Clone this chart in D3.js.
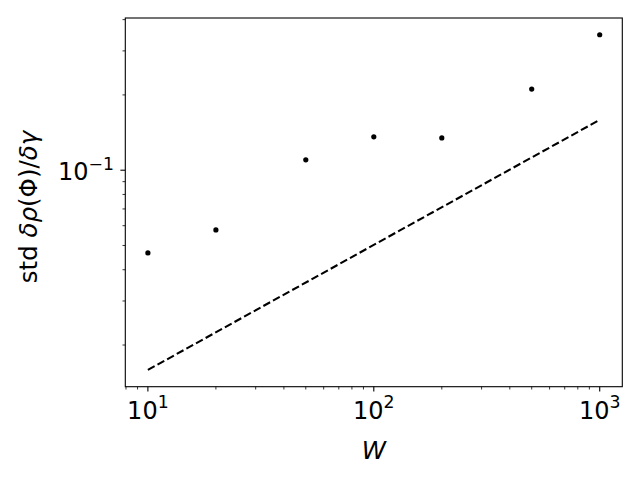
<!DOCTYPE html>
<html>
<head>
<meta charset="utf-8">
<script src="https://cdn.jsdelivr.net/npm/d3@7"></script>
<style>
  body { margin: 0; background: #fff; }
  text { font-family: "DejaVu Sans", sans-serif; fill: #000; }
</style>
</head>
<body>
<svg width="640" height="480"></svg>
<script>
// measured points
var W = [10, 20, 50, 100, 200, 500, 1000];
var stdVals = [0.0467, 0.0577, 0.110, 0.136, 0.1346, 0.211, 0.348];

// dashed reference line
var lineW = [10, 1000];
var lineVals = [0.0159, 0.159];

var xMajor = [10, 100, 1000];
var xMajorExp = ["1", "2", "3"];
var yMajor = [0.1];
var yMajorExp = ["\u22121"];

var svg = d3.select("svg");
var plotL = 125.3, plotR = 622.3, plotT = 18, plotB = 386.7;
var fs = 24;      // tick labels
var labFs = 24.5; // axis labels

// log margins like matplotlib (5% each side in log space)
function logPad(lo, hi) {
  var a = Math.log10(lo), b = Math.log10(hi), p = (b - a) * 0.05;
  return [Math.pow(10, a - p), Math.pow(10, b + p)];
}
var xDom = logPad(d3.min(W.concat(lineW)), d3.max(W.concat(lineW)));
var yDom = logPad(d3.min(stdVals.concat(lineVals)), d3.max(stdVals.concat(lineVals)));

var x = d3.scaleLog().domain(xDom).range([plotL, plotR]);
var y = d3.scaleLog().domain(yDom).range([plotB, plotT]);

function minorTicks(scale) {
  var d = scale.domain(), out = [];
  for (var e = Math.floor(Math.log10(d[0])); e <= Math.ceil(Math.log10(d[1])); e++) {
    for (var k = 2; k <= 9; k++) {
      var v = k * Math.pow(10, e);
      if (v >= d[0] && v <= d[1]) out.push(v);
    }
  }
  return out;
}

// dashed line
svg.append("path")
  .datum(lineW.map(function (w, i) { return [w, lineVals[i]]; }))
  .attr("fill", "none")
  .attr("stroke", "#000")
  .attr("stroke-width", 2.08)
  .attr("stroke-dasharray", "7.7,3.3")
  .attr("d", d3.line().x(function (d) { return x(d[0]); }).y(function (d) { return y(d[1]); }));

// points
svg.append("g").selectAll("circle")
  .data(W)
  .enter().append("circle")
  .attr("cx", function (d) { return x(d); })
  .attr("cy", function (d, i) { return y(stdVals[i]); })
  .attr("r", 2.6)
  .attr("fill", "#000");

// frame
svg.append("rect")
  .attr("x", plotL).attr("y", plotT)
  .attr("width", plotR - plotL).attr("height", plotB - plotT)
  .attr("fill", "none").attr("stroke", "#000").attr("stroke-width", 1.1);

// x ticks
var gx = svg.append("g");
gx.selectAll("line.minor").data(minorTicks(x)).enter().append("line")
  .attr("x1", function (d) { return x(d); }).attr("x2", function (d) { return x(d); })
  .attr("y1", plotB).attr("y2", plotB + 2.8)
  .attr("stroke", "#000").attr("stroke-width", 0.8);
gx.selectAll("line.major").data(xMajor).enter().append("line")
  .attr("x1", function (d) { return x(d); }).attr("x2", function (d) { return x(d); })
  .attr("y1", plotB).attr("y2", plotB + 4.9)
  .attr("stroke", "#000").attr("stroke-width", 1.1);
var xt = gx.selectAll("text").data(xMajor).enter().append("text")
  .attr("x", function (d) { return x(d); })
  .attr("y", 418.5)
  .attr("text-anchor", "middle")
  .style("font-size", fs + "px");
xt.append("tspan").text("10");
xt.append("tspan").attr("dy", -11).style("font-size", (fs * 0.72) + "px")
  .text(function (d, i) { return xMajorExp[i]; });

// y ticks
var gy = svg.append("g");
gy.selectAll("line.minor").data(minorTicks(y)).enter().append("line")
  .attr("y1", function (d) { return y(d); }).attr("y2", function (d) { return y(d); })
  .attr("x1", plotL).attr("x2", plotL - 2.8)
  .attr("stroke", "#000").attr("stroke-width", 0.8);
gy.selectAll("line.major").data(yMajor).enter().append("line")
  .attr("y1", function (d) { return y(d); }).attr("y2", function (d) { return y(d); })
  .attr("x1", plotL).attr("x2", plotL - 4.9)
  .attr("stroke", "#000").attr("stroke-width", 1.1);
var yt = gy.selectAll("text").data(yMajor).enter().append("text")
  .attr("x", 114)
  .attr("y", function (d) { return y(d) + 9.5; })
  .attr("text-anchor", "end")
  .style("font-size", fs + "px");
yt.append("tspan").text("10");
yt.append("tspan").attr("dy", -10).style("font-size", (fs * 0.72) + "px")
  .text(function (d, i) { return yMajorExp[i]; });

// axis labels
svg.append("text")
  .attr("x", (plotL + plotR) / 2).attr("y", 459)
  .attr("text-anchor", "middle")
  .style("font-size", labFs + "px").style("font-style", "italic")
  .text("W");

var yl = svg.append("text")
  .attr("transform", "translate(37," + 207 + ") rotate(-90)")
  .attr("text-anchor", "middle")
  .style("font-size", labFs + "px");
yl.append("tspan").text("std ");
yl.append("tspan").style("font-style", "italic").text("\u03b4\u03c1");
yl.append("tspan").text("(\u03a6)/");
yl.append("tspan").style("font-style", "italic").text("\u03b4\u03b3");
</script>
</body>
</html>
